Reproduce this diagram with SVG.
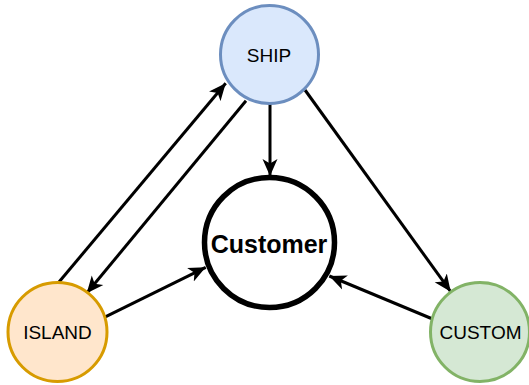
<svg xmlns="http://www.w3.org/2000/svg" width="529" height="385" viewBox="0 0 529 385">
<style>
.lbl{font-family:"Liberation Sans",Arial,sans-serif;font-size:19px;fill:#000;text-anchor:middle}
.big{font-family:"Liberation Sans",Arial,sans-serif;font-size:25px;font-weight:bold;fill:#000;text-anchor:middle}
.edge{stroke:#000;stroke-width:3;fill:none}
</style>
<defs>
<marker id="arr" markerUnits="userSpaceOnUse" markerWidth="18" markerHeight="16" refX="17" refY="8" orient="auto">
<path d="M17,8 L0,0.5 L4.5,8 L0,15.5 Z" fill="#000"/>
</marker>
</defs>
<g id="connectors">
<line class="edge" x1="59" y1="282" x2="225.7" y2="83.3" marker-end="url(#arr)"/>
<line class="edge" x1="246" y1="100.7" x2="86.7" y2="293.3" marker-end="url(#arr)"/>
<line class="edge" x1="104.3" y1="317.3" x2="205.7" y2="267.3" marker-end="url(#arr)"/>
<line class="edge" x1="270" y1="104" x2="270" y2="176" marker-end="url(#arr)"/>
<line class="edge" x1="305" y1="90" x2="450.7" y2="291.7" marker-end="url(#arr)"/>
<line class="edge" x1="435" y1="320" x2="329.3" y2="276" marker-end="url(#arr)"/>
</g>
<g id="ship">
<circle cx="269.5" cy="54.5" r="49" fill="#dae8fc" stroke="#6c8ebf" stroke-width="3"/>
<text class="lbl" x="269" y="62">SHIP</text>
</g>
<g id="customer">
<circle cx="269.5" cy="242.5" r="65" fill="#fff" stroke="#000" stroke-width="5.5"/>
<text class="big" x="269" y="252.5">Customer</text>
</g>
<g id="island">
<circle cx="57.5" cy="332" r="49.5" fill="#ffe6cc" stroke="#d79b00" stroke-width="3"/>
<text class="lbl" x="57.5" y="339">ISLAND</text>
</g>
<g id="custom">
<circle cx="480" cy="332" r="49.5" fill="#d5e8d4" stroke="#82b366" stroke-width="3"/>
<text class="lbl" x="480.5" y="339">CUSTOM</text>
</g>
</svg>
